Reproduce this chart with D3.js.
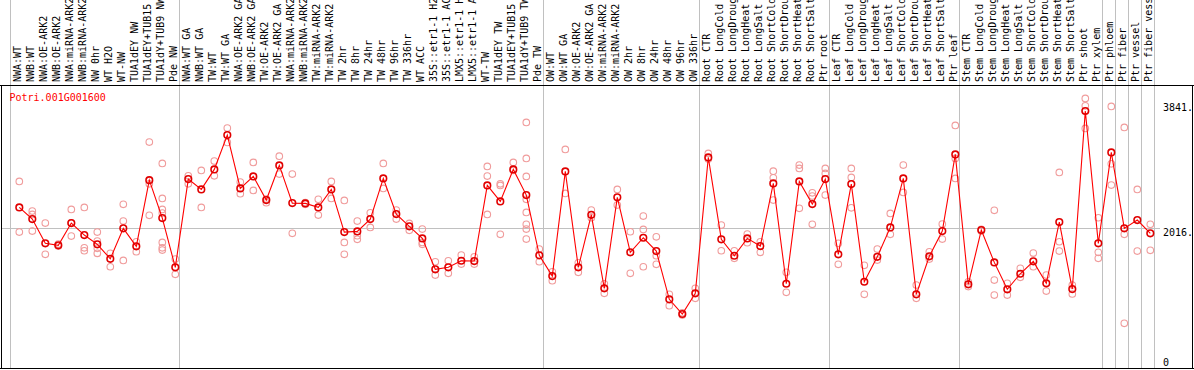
<!DOCTYPE html>
<html><head><meta charset="utf-8">
<script src="https://cdn.jsdelivr.net/npm/d3@7"></script>
<style>
html,body{margin:0;padding:0;background:#fff;}
svg{display:block;}
text{font-family:"DejaVu Sans Mono","Liberation Mono",monospace;font-size:10px;}
</style></head>
<body>
<script>
const title = "Potri.001G001600";
const labels = [
"NWA:WT","NWB:WT","NWA:OE-ARK2","NWB:OE-ARK2","NWA:miRNA-ARK2","NWB:miRNA-ARK2","NW 0hr","WT H2O","WT-NW","TUA1dEY NW","TUA1dEY+TUB15 NW","TUA1dY+TUB9 NW","Pde NW",
"NWA:WT GA","NWB:WT GA","TW:WT","TW:WT GA","NWA:OE-ARK2 GA","NWB:OE-ARK2 GA","TW:OE-ARK2","TW:OE-ARK2 GA","NWA:miRNA-ARK2 GA","NWB:miRNA-ARK2 GA","TW:miRNA-ARK2","TW:miRNA-ARK2 GA",
"TW 2hr","TW 8hr","TW 24hr","TW 48hr","TW 96hr","TW 336hr","WT ACC","35S::etr1-1 H2O","35S::etr1-1 ACC","LMX5::etr1-1 H2O","LMX5::etr1-1 ACC","WT-TW","TUA1dEY TW","TUA1dEY+TUB15 TW","TUA1dY+TUB9 TW","Pde TW",
"OW:WT","OW:WT GA","OW:OE-ARK2","OW:OE-ARK2 GA","OW:miRNA-ARK2","OW:miRNA-ARK2 GA","OW 2hr","OW 8hr","OW 24hr","OW 48hr","OW 96hr","OW 336hr",
"Root CTR","Root LongCold","Root LongDrought","Root LongHeat","Root LongSalt","Root ShortCold","Root ShortDrought","Root ShortHeat","Root ShortSalt","Ptr root",
"Leaf CTR","Leaf LongCold","Leaf LongDrought","Leaf LongHeat","Leaf LongSalt","Leaf ShortCold","Leaf ShortDrought","Leaf ShortHeat","Leaf ShortSalt","Ptr leaf",
"Stem CTR","Stem LongCold","Stem LongDrought","Stem LongHeat","Stem LongSalt","Stem ShortCold","Stem ShortDrought","Stem ShortHeat","Stem ShortSalt","Ptr shoot","Ptr xylem",
"Ptr phloem","Ptr fiber","Ptr vessel","Ptr fiber vessel"
];
const means = [
2342,2160,1783,1752,2098,1912,1767,1543,2016,1736,2766,2176,1410,
2782,2622,2933,3466,2637,2824,2456,2995,2409,2404,2342,2622,
1958,1969,2160,2793,2238,2047,1860,1379,1410,1512,1508,2684,2435,2933,2533,1596,
1274,2902,1410,2227,1083,2498,1643,1870,1663,912,684,1006,
3119,1845,1590,1860,1741,2715,1155,2746,2393,2782,
1612,2704,1186,1574,2031,2793,990,1581,1974,3166,
1145,1989,1487,1068,1310,1503,1161,2114,1072,3841,1783,
3197,2016,2145,1938
];
const reps = [
[2746,1958],[2285,2233,1974],[2098,1612],[1772,1741],[2311,2098,1896],[2342,1714,1668],[1958,1818,1705,1627],[1627,1419],[2389,2129,1518],[1808,1652],[3357,2709,2218],[3026,2482,2311,2254,1798,1714,1679],[1539,1301],
[2833,2709],[2917,2342],[3062,2833],[3575,3352],[2735,2554],[3042,2606],[2471,2414],[3139,2860],[2860,1938],[2390,2418],[2467,2222],[2746,2482],
[2451,1798,1612],[2129,1901,1845],[2258,2031],[3026,2637],[2300,2160],[2093,1985],[2005,1798,1767],[1497,1290],[1512,1316],[1601,1461],[1574,1461],[2979,2829,2233],[2709,2684,1923],[3042,2917],[3663,3104,2824,2467,2264,2078,2005,1850],[1694,1497],
[1341,1201],[3244,2560],[1481,1332],[2300,2181],[1155,1006],[2622,2378],[1963,1316],[2207,2000,1419],[1885,1590,1456],[990,813],[704,668],[1083,928],
[3181,3093],[2067,1668],[1668,1550],[1927,1792],[1808,1643],[2906,2802,2456],[1332,1021],[3000,2948,2327],[2569,2518,2078],[2948,2871,2533],
[1783,1456],[2948,2808,2336],[1441,990],[1694,1523],[2249,1923],[3000,2575],[1135,928],[1652,1539],[2083,1850],[3617,3104,2793],
[1186,1110],[1975,2000],[2296,1212,979],[1161,979],[1394,1254],[1632,1419],[1290,1041],[2886,1808,1663],[1135,995],[4036,3921,3570],[2181,1643,1550],
[3912,3020,2689],[3586,1923,539],[2622,1663],[2078,1674]
];
const groupBreaks = [0,13,41,53,63,73,84,85,86,87,88];
const yTickValues = [0,2016,3841];

const W = 1194, H = 370;
const svg = d3.select("body").append("svg").attr("width",W).attr("height",H);

const x = d3.scaleLinear().domain([0,88]).range([11,1155]);
const cx = i => x(i) + 8.3;
const y = d3.scaleLinear().domain([0,3841]).range([358,111]);

// group separator lines
svg.selectAll("line.sep").data(groupBreaks).enter().append("line")
  .attr("x1",d=>Math.round(x(d))-0.5).attr("x2",d=>Math.round(x(d))-0.5)
  .attr("y1",0).attr("y2",369).attr("stroke","#c0c0c0").attr("stroke-width",1);

// reference line at 2016
svg.append("line").attr("x1",1).attr("x2",1160)
  .attr("y1",Math.round(y(2016))+0.5).attr("y2",Math.round(y(2016))+0.5)
  .attr("stroke","#c0c0c0").attr("stroke-width",1);

// frame
svg.append("line").attr("x1",0).attr("x2",W).attr("y1",85.5).attr("y2",85.5).attr("stroke","#000");
svg.append("line").attr("x1",0).attr("x2",W).attr("y1",368.5).attr("y2",368.5).attr("stroke","#000");
svg.append("line").attr("x1",1.5).attr("x2",1.5).attr("y1",85).attr("y2",369).attr("stroke","#000");
svg.append("line").attr("x1",1192.5).attr("x2",1192.5).attr("y1",85).attr("y2",369).attr("stroke","#000");

// column labels
svg.selectAll("text.lab").data(labels).enter().append("text")
  .attr("transform",(d,i)=>`translate(${cx(i)+2},82) rotate(-90)`)
  .attr("fill","#000").text(d=>d);

// title
svg.append("text").attr("x",9.5).attr("y",100.5).attr("fill","#ff0000").text(title);

// y labels
svg.selectAll("text.ylab").data(yTickValues).enter().append("text")
  .attr("x",1163)
  .attr("y",d=> d===3841 ? y(d) : y(d)+7.5)
  .attr("fill","#000").text(d=> d===0 ? "0" : d+".");

// replicate points
const repPts = [];
reps.forEach((arr,i)=>arr.forEach(v=>repPts.push({i,v})));
svg.selectAll("circle.rep").data(repPts).enter().append("circle")
  .attr("cx",d=>cx(d.i)).attr("cy",d=>y(d.v)).attr("r",3.3)
  .attr("fill","none").attr("stroke","#f09c9c").attr("stroke-width",1.1);

// mean line
svg.append("path").datum(means)
  .attr("d",d3.line().x((d,i)=>cx(i)).y(d=>y(d)))
  .attr("fill","none").attr("stroke","#ff0000").attr("stroke-width",1.1);

// mean points
svg.selectAll("circle.mean").data(means).enter().append("circle")
  .attr("cx",(d,i)=>cx(i)).attr("cy",d=>y(d)).attr("r",3.3)
  .attr("fill","none").attr("stroke","#e00000").attr("stroke-width",1.6);
</script>
</body></html>
